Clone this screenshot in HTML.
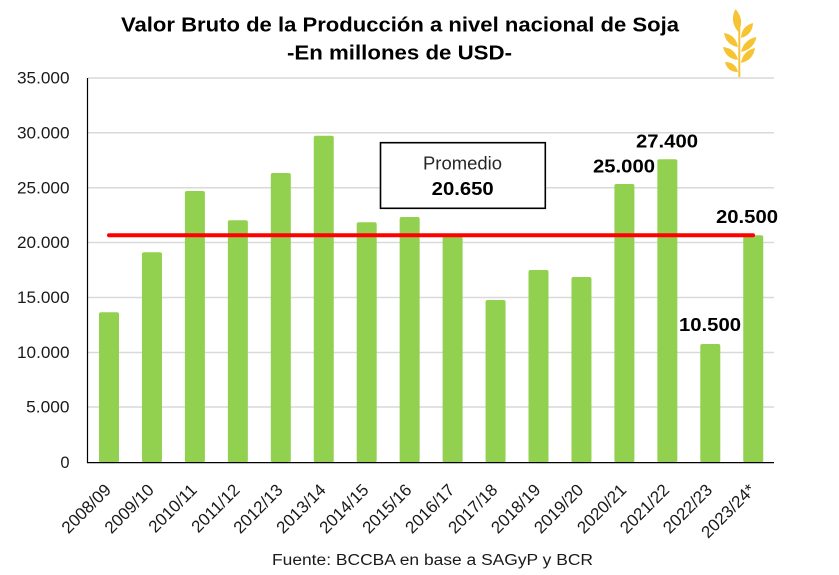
<!DOCTYPE html>
<html><head><meta charset="utf-8"><style>
html,body{margin:0;padding:0;background:#fff;}
svg{display:block;}
text{font-family:"Liberation Sans",Arial,sans-serif;}
</style></head><body>
<svg width="839" height="575" viewBox="0 0 839 575" xmlns="http://www.w3.org/2000/svg">
<rect width="839" height="575" fill="#fff"/>
<!-- title -->
<text x="400" y="31.5" font-size="20.5" font-weight="bold" text-anchor="middle" textLength="558" lengthAdjust="spacingAndGlyphs" fill="#000">Valor Bruto de la Producción a nivel nacional de Soja</text>
<text x="399.5" y="59.5" font-size="20.5" font-weight="bold" text-anchor="middle" textLength="225" lengthAdjust="spacingAndGlyphs" fill="#000">-En millones de USD-</text>
<!-- wheat icon -->
<g fill="#F6C432">
<line x1="739.3" y1="28" x2="739.3" y2="77" stroke="#F6C432" stroke-width="2"/>
<path d="M738.5,32 Q744.9,19.5 735.5,9 Q729.1,21.5 738.5,32 Z"/>
<path d="M738,47 Q735.95,35.05 724,33 Q726.05,44.95 738,47 Z"/>
<path d="M738,60 Q735.1,48.2 723,47 Q725.9,58.8 738,60 Z"/>
<path d="M738,72 Q735.5,61.85 725,62 Q727.5,72.15 738,72 Z"/>
<path d="M741,38 Q752.5,34.9 753,23 Q741.5,26.1 741,38 Z"/>
<path d="M741,52 Q753.6,49.5 756.5,37 Q743.9,39.5 741,52 Z"/>
<path d="M741,63 Q753.1,60.3 755,48 Q742.9,50.7 741,63 Z"/>
</g>
<!-- gridlines -->
<g stroke="#D9D9D9" stroke-width="1.5">
<line x1="88" x2="774" y1="78" y2="78"/>
<line x1="88" x2="774" y1="132.7" y2="132.7"/>
<line x1="88" x2="774" y1="187.7" y2="187.7"/>
<line x1="88" x2="774" y1="242.5" y2="242.5"/>
<line x1="88" x2="774" y1="297.5" y2="297.5"/>
<line x1="88" x2="774" y1="352.5" y2="352.5"/>
<line x1="88" x2="774" y1="407" y2="407"/>
</g>
<!-- y labels -->
<g font-size="16.5" fill="#1a1a1a" text-anchor="end">
<text x="69.5" y="83.7" textLength="52.5" lengthAdjust="spacingAndGlyphs">35.000</text>
<text x="69.5" y="138.4" textLength="52.5" lengthAdjust="spacingAndGlyphs">30.000</text>
<text x="69.5" y="193.4" textLength="52.5" lengthAdjust="spacingAndGlyphs">25.000</text>
<text x="69.5" y="248.2" textLength="52.5" lengthAdjust="spacingAndGlyphs">20.000</text>
<text x="69.5" y="303.2" textLength="52.5" lengthAdjust="spacingAndGlyphs">15.000</text>
<text x="69.5" y="358.2" textLength="52.5" lengthAdjust="spacingAndGlyphs">10.000</text>
<text x="69.5" y="412.7" textLength="43.3" lengthAdjust="spacingAndGlyphs">5.000</text>
<text x="69.5" y="468">0</text>
</g>
<!-- bars -->
<g fill="#92D050">
<rect x="99" y="312.3" width="20" height="150.2" rx="2"/>
<rect x="141.95" y="252.3" width="20" height="210.2" rx="2"/>
<rect x="184.9" y="191" width="20" height="271.5" rx="2"/>
<rect x="227.85" y="220.3" width="20" height="242.2" rx="2"/>
<rect x="270.8" y="173" width="20" height="289.5" rx="2"/>
<rect x="313.75" y="135.7" width="20" height="326.8" rx="2"/>
<rect x="356.7" y="222.3" width="20" height="240.2" rx="2"/>
<rect x="399.65" y="217" width="20" height="245.5" rx="2"/>
<rect x="442.6" y="236" width="20" height="226.5" rx="2"/>
<rect x="485.55" y="300" width="20" height="162.5" rx="2"/>
<rect x="528.5" y="270" width="20" height="192.5" rx="2"/>
<rect x="571.45" y="277" width="20" height="185.5" rx="2"/>
<rect x="614.4" y="184" width="20" height="278.5" rx="2"/>
<rect x="657.35" y="159.3" width="20" height="303.2" rx="2"/>
<rect x="700.3" y="344" width="20" height="118.5" rx="2"/>
<rect x="743.25" y="235.3" width="20" height="227.2" rx="2"/>
</g>
<!-- axes -->
<line x1="87.5" y1="78" x2="87.5" y2="463" stroke="#000" stroke-width="1.2"/>
<line x1="87" y1="462.6" x2="774" y2="462.6" stroke="#000" stroke-width="1.2"/>
<!-- average line -->
<line x1="109" y1="235.3" x2="753" y2="235.3" stroke="#FF0000" stroke-width="4" stroke-linecap="round"/>
<!-- promedio box -->
<rect x="380.5" y="142.7" width="164.8" height="65.6" fill="#fff" stroke="#000" stroke-width="1.6"/>
<text x="462.5" y="169.3" font-size="18" fill="#262626" text-anchor="middle" textLength="79" lengthAdjust="spacingAndGlyphs">Promedio</text>
<text x="462.7" y="195" font-size="18.5" font-weight="bold" fill="#000" text-anchor="middle" textLength="62" lengthAdjust="spacingAndGlyphs">20.650</text>
<!-- data labels -->
<g font-size="18.5" font-weight="bold" fill="#000" text-anchor="middle">
<text x="624" y="172.5" textLength="62" lengthAdjust="spacingAndGlyphs">25.000</text>
<text x="667" y="147.5" textLength="62" lengthAdjust="spacingAndGlyphs">27.400</text>
<text x="747" y="223" textLength="62" lengthAdjust="spacingAndGlyphs">20.500</text>
<text x="710" y="331" textLength="62" lengthAdjust="spacingAndGlyphs">10.500</text>
</g>
<!-- x labels -->
<g font-size="17" fill="#1a1a1a" text-anchor="end">
<text x="112" y="491" transform="rotate(-45 112 491)">2008/09</text>
<text x="154.95" y="491" transform="rotate(-45 154.95 491)">2009/10</text>
<text x="197.9" y="491" transform="rotate(-45 197.9 491)">2010/11</text>
<text x="240.85" y="491" transform="rotate(-45 240.85 491)">2011/12</text>
<text x="283.8" y="491" transform="rotate(-45 283.8 491)">2012/13</text>
<text x="326.75" y="491" transform="rotate(-45 326.75 491)">2013/14</text>
<text x="369.7" y="491" transform="rotate(-45 369.7 491)">2014/15</text>
<text x="412.65" y="491" transform="rotate(-45 412.65 491)">2015/16</text>
<text x="455.6" y="491" transform="rotate(-45 455.6 491)">2016/17</text>
<text x="498.55" y="491" transform="rotate(-45 498.55 491)">2017/18</text>
<text x="541.5" y="491" transform="rotate(-45 541.5 491)">2018/19</text>
<text x="584.45" y="491" transform="rotate(-45 584.45 491)">2019/20</text>
<text x="627.4" y="491" transform="rotate(-45 627.4 491)">2020/21</text>
<text x="670.35" y="491" transform="rotate(-45 670.35 491)">2021/22</text>
<text x="713.3" y="491" transform="rotate(-45 713.3 491)">2022/23</text>
<text x="756.25" y="491" transform="rotate(-45 756.25 491)">2023/24*</text>
</g>
<!-- source -->
<text x="272" y="565" font-size="15.5" fill="#1a1a1a" textLength="321" lengthAdjust="spacingAndGlyphs">Fuente: BCCBA en base a SAGyP y BCR</text>
</svg>
</body></html>
